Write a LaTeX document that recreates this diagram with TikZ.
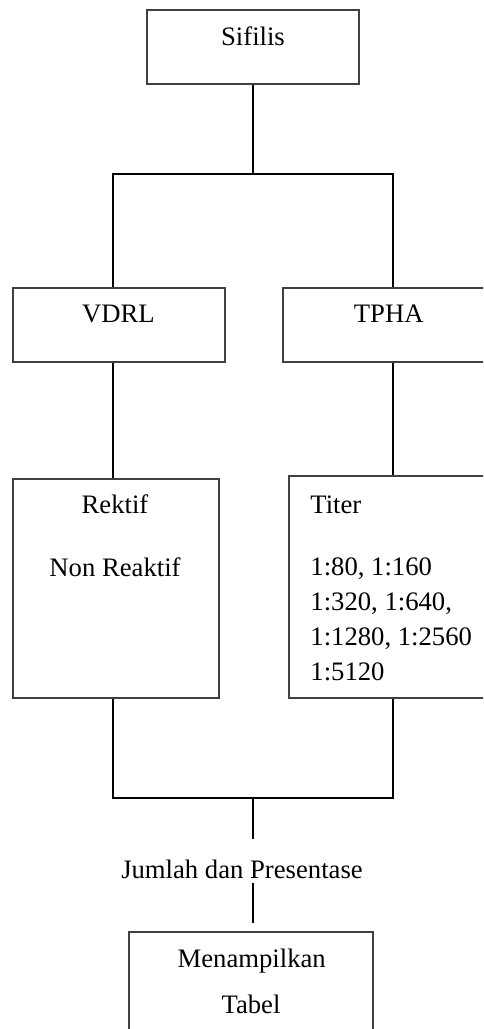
\documentclass[tikz,border=0pt]{standalone}
\usepackage{fontspec}
\setmainfont{Liberation Serif}
\usetikzlibrary{positioning}
\tikzset{
	box/.style 2 args={draw=black!75, line width=0.6pt, minimum width={#1*0.45pt}, minimum height={#2*0.45pt}, inner sep=0pt},
	txt/.style={font=\fontsize{12}{15.75}\selectfont, inner sep=0pt},
	link/.style={black, line width=0.9pt},
}
\begin{document}
\begin{tikzpicture}[x=0.45pt,y=-0.45pt]
				\clip (0,0) rectangle (483,1029);
				% boxes
				\node[box={212}{74}] (sifilis) at (253,47) {};
				\node[txt, anchor=base] (sifilistx) at (253,45) {Sifilis};
				\node[box={212}{74}] (vdrl) at (119,325) {};
				\node[txt, anchor=base] (vdrltx) at (118.5,322.5) {VDRL};
				\node[box={212}{74}] (tpha) at (389,325) {};
				\node[txt, anchor=base] (tphatx) at (388.7,322.5) {TPHA};
				\node[box={206}{219}] (rektif) at (116,588.5) {};
				\node[txt, anchor=base] (rektiftx) at (115,513) {Rektif};
				\node[txt, anchor=base] (nonrektx) at (115,576) {Non Reaktif};
				\node[box={206}{222}] (titer) at (392,587) {};
				\node[txt, anchor=base west] (titertx) at (310,513) {Titer};
				\foreach \t [count=\i] in {{1:80, 1:160},{1:320, 1:640,},{1:1280, 1:2560},{1:5120}}
					\node[txt, anchor=base west] (titer\i) at (310,{540+35*\i}) {\t};
				\node[txt, anchor=base] (jumlah) at (242,878) {Jumlah dan Presentase};
				\node[box={244}{114}] (tabel) at (251,989) {};
				\node[txt, anchor=base] (tabeltx1) at (251.7,967) {Menampilkan};
				\node[txt, anchor=base] (tabeltx2) at (251,1013) {Tabel};
				% connectors
				\coordinate (split) at (253,174);
				\coordinate (lft) at (113,174);
				\coordinate (rgt) at (393,174);
				\coordinate (lbot) at (113,798);
				\coordinate (rbot) at (393,798);
				\coordinate (join) at (253,798);
				\coordinate (jtop) at (253,839);
				\coordinate (jbot) at (253,883);
				\coordinate (ttop) at (253,923);
				\draw[link] (sifilis.south) -- (split);
				\draw[link] (lft |- vdrl.north) -- (lft) -- (rgt) -- (rgt |- tpha.north);
				\draw[link] (lft |- vdrl.south) -- (lft |- rektif.north);
				\draw[link] (rgt |- tpha.south) -- (rgt |- titer.north);
				\draw[link] (lft |- rektif.south) -- (lbot) -- (rbot) -- (rgt |- titer.south);
				\draw[link] (join) -- (jtop);
				\draw[link] (jbot) -- (ttop);
\end{tikzpicture}
\end{document}
